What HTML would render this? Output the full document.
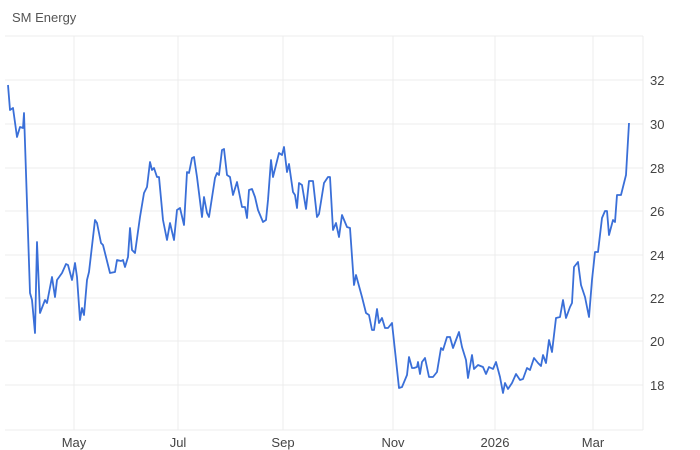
<!DOCTYPE html>
<html><head><style>
body{margin:0;background:#fff;}
svg{display:block;font-family:"Liberation Sans",Arial,sans-serif;}
</style></head><body>
<svg width="700" height="450" viewBox="0 0 700 450">
<rect width="700" height="450" fill="#fff"/>
<text x="12" y="22" font-size="13" fill="#555">SM Energy</text>
<g stroke="#ececec" stroke-width="1">
<line x1="5" y1="36" x2="643" y2="36"/>
<line x1="5" y1="80" x2="643" y2="80"/>
<line x1="5" y1="124" x2="643" y2="124"/>
<line x1="5" y1="168" x2="643" y2="168"/>
<line x1="5" y1="211" x2="643" y2="211"/>
<line x1="5" y1="255" x2="643" y2="255"/>
<line x1="5" y1="298" x2="643" y2="298"/>
<line x1="5" y1="341" x2="643" y2="341"/>
<line x1="5" y1="385" x2="643" y2="385"/>
<line x1="5" y1="430" x2="643" y2="430"/>
<line x1="74" y1="36" x2="74" y2="430"/>
<line x1="178" y1="36" x2="178" y2="430"/>
<line x1="283" y1="36" x2="283" y2="430"/>
<line x1="393" y1="36" x2="393" y2="430"/>
<line x1="495" y1="36" x2="495" y2="430"/>
<line x1="593" y1="36" x2="593" y2="430"/>
<line x1="643" y1="36" x2="643" y2="430"/>
</g>
<g font-size="13" fill="#444">
<text x="650" y="85">32</text><text x="650" y="129">30</text><text x="650" y="173">28</text>
<text x="650" y="216">26</text><text x="650" y="260">24</text><text x="650" y="303">22</text>
<text x="650" y="346">20</text><text x="650" y="390">18</text>
</g>
<g font-size="13" fill="#444" text-anchor="middle">
<text x="74" y="447">May</text><text x="178" y="447">Jul</text><text x="283" y="447">Sep</text>
<text x="393" y="447">Nov</text><text x="495" y="447">2026</text><text x="593" y="447">Mar</text>
</g>
<polyline fill="none" stroke="#3a6fd8" stroke-width="1.8" stroke-linejoin="round" points="8,85 10,110 13,108 17,137 20,127 23,128 24,113 30,293 32,300 35,333 37,242 40,313 45,300 47,303 52,277 55,297 57,280 62,273 66,264 68,265 72,280 75,263 77,277 80,320 82,308 84,315 87,280 89,272 95,220 97,223 101,243 103,245 106,257 110,273 115,272 117,260 121,261 123,260 125,267 128,257 130,228 132,250 135,253 140,217 144,193 147,187 150,162 152,170 154,168 157,177 159,177 163,220 167,240 170,223 174,240 177,210 180,208 184,225 187,172 189,173 192,158 194,157 197,177 202,217 204,197 207,213 209,217 215,178 217,173 219,175 222,150 224,149 227,175 230,177 233,195 237,182 242,207 245,207 247,218 249,190 252,189 255,197 258,210 263,222 266,220 268,200 271,160 273,177 279,153 282,155 284,147 287,172 289,164 293,192 295,195 297,208 299,183 302,185 306,209 309,181 313,181 317,217 319,214 324,183 328,177 330,177 333,230 336,223 339,237 342,215 347,227 350,228 354,285 356,275 362,297 366,313 369,315 372,330 374,330 377,309 379,323 382,318 385,328 388,328 392,323 396,360 399,388 402,387 407,375 409,357 412,368 414,368 417,367 418,362 420,374 422,362 425,358 429,377 433,377 437,372 441,348 443,350 447,337 450,337 453,348 459,332 462,347 466,360 468,378 472,355 474,369 478,365 483,367 486,374 489,367 493,369 496,362 500,377 503,393 505,383 508,389 512,383 516,374 520,380 523,379 527,368 530,370 534,358 538,363 541,366 543,355 546,363 549,340 552,352 556,318 560,317 563,300 566,318 570,307 572,303 574,267 578,262 581,285 585,297 589,317 592,280 595,252 598,252 602,218 605,211 607,211 609,235 613,220 615,222 617,195 621,195 626,175 629,123"/>
</svg>
</body></html>
